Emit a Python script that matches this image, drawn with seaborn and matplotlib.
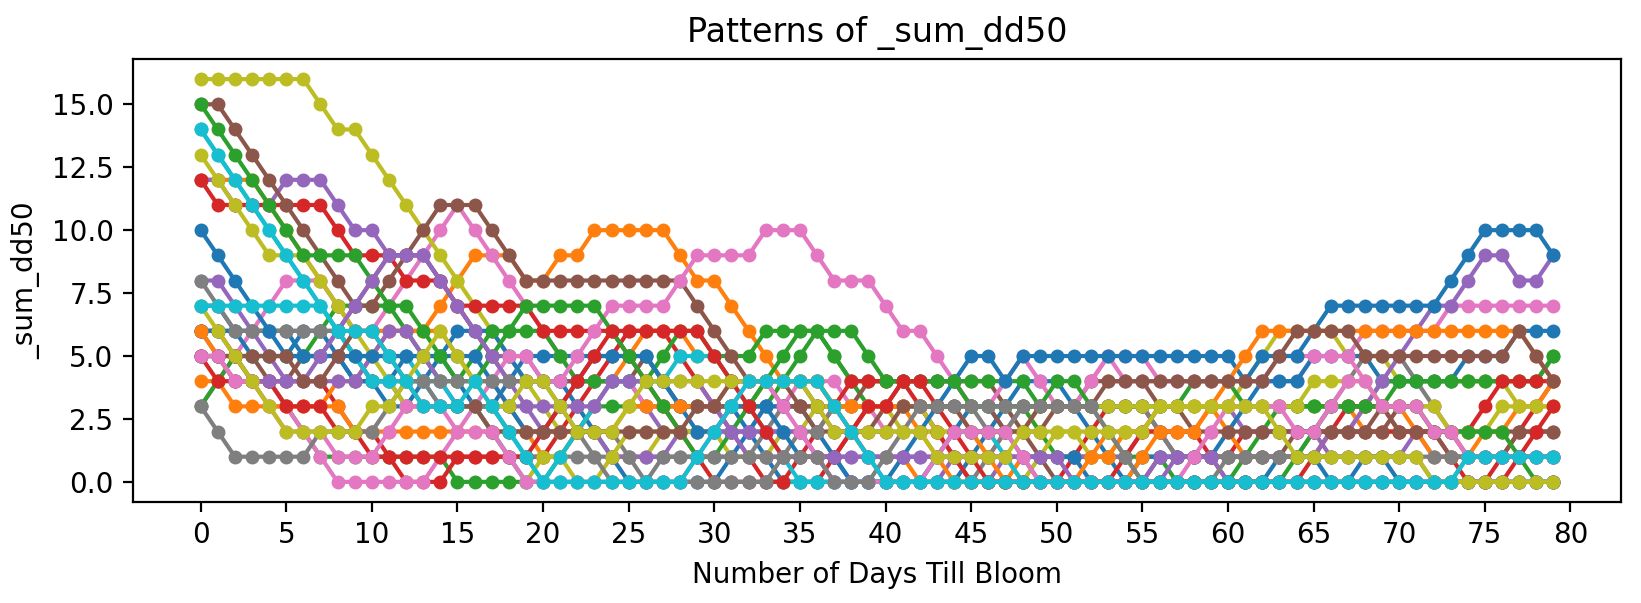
import matplotlib
matplotlib.use("Agg")
import matplotlib.pyplot as plt
from matplotlib.ticker import FormatStrFormatter
import seaborn as sns
import pandas as pd

days = list(range(80))
x_ticks = list(range(0, 81, 5))
y_ticks = [0.0, 2.5, 5.0, 7.5, 10.0, 12.5, 15.0]
title = "Patterns of _sum_dd50"
x_label = "Number of Days Till Bloom"
y_label = "_sum_dd50"

s00 = [7,7,6,6,6,6,5,5,5,4, 4,4,5,5,5,4,3,3,4,5, 5,5,5,5,5,5,5,4,3,3, 3,3,2,1,0,0,0,0,0,0,
       0,0,0,0,0,1,2,3,4,4, 4,3,2,1,0,0,0,0,0,0, 0,0,0,1,1,1,0,0,1,1, 0,0,0,0,0,0,0,0,0,0]
s01 = [12,12,12,12,11,10,9,8,7,6, 6,6,6,6,7,8,9,9,9,8, 8,9,9,10,10,10,10,10,9,8, 8,7,6,5,4,4,4,3,2,1,
       1,1,0,0,0,0,0,0,1,1, 1,1,1,2,2,2,2,2,2,3, 3,3,3,3,3,3,3,3,2,2, 2,2,2,2,1,1,1,1,1,1]
s02 = [5,5,5,4,4,3,2,1,1,1, 1,1,1,1,1,0,0,0,0,0, 0,1,2,3,3,3,3,3,3,3, 3,3,3,3,4,5,6,5,4,3,
       3,3,3,3,3,3,3,3,3,2, 1,1,1,1,1,1,1,0,0,0, 0,1,2,3,3,3,3,3,3,3, 4,4,4,4,4,4,4,4,4,5]
s03 = [6,6,5,4,4,4,4,4,3,2, 2,1,0,0,0,1,1,1,1,1, 1,2,3,4,5,6,6,6,5,4, 3,2,1,0,0,0,0,1,2,3,
       3,3,3,2,1,0,0,0,0,0, 0,1,2,3,3,3,2,1,1,1, 1,2,2,2,2,2,2,2,2,2, 2,2,2,1,0,0,1,2,3,4]
s04 = [12,12,11,11,11,12,12,12,11,10, 10,9,9,9,8,7,6,5,5,5, 4,4,4,4,4,4,3,2,2,2, 2,2,2,2,2,2,1,1,1,1,
       1,1,1,1,1,0,0,1,1,1, 1,1,1,1,1,2,3,3,3,3, 3,2,2,2,2,2,1,1,1,1, 1,2,1,1,1,1,1,1,1,1]
s05 = [6,5,5,5,4,4,5,5,6,7, 8,9,9,9,8,7,6,5,4,4, 4,4,4,4,4,4,5,4,3,3, 3,3,3,4,4,4,3,3,3,4,
       4,4,4,4,4,4,4,3,2,1, 0,0,0,0,0,0,1,1,1,1, 1,1,1,1,2,2,2,2,2,2, 3,3,2,2,2,2,2,2,2,2]
s06 = [3,4,5,6,7,8,8,8,7,6, 6,7,8,9,10,11,10,9,8,7, 6,5,4,4,4,4,3,3,2,2, 2,2,2,3,3,4,4,4,3,3,
       2,2,2,2,1,1,1,2,3,3, 3,3,4,5,5,5,4,4,4,4, 4,4,4,4,4,5,5,5,6,6, 6,6,6,7,7,7,7,7,7,7]
s07 = [6,6,6,6,6,6,6,6,6,5, 4,4,3,3,3,3,3,2,1,1, 1,1,1,1,1,1,1,1,1,1, 1,1,1,2,3,3,3,3,2,1,
       0,0,0,0,0,0,1,2,3,3, 3,3,3,3,3,3,2,1,1,1, 1,1,1,1,1,2,3,4,5,5, 5,4,3,2,1,1,1,1,1,1]
s08 = [16,16,16,16,16,16,16,15,14,14, 13,12,11,10,9,8,7,6,5,4, 3,2,2,2,1,1,1,2,2,2, 2,1,1,1,2,2,3,3,3,3,
       3,2,2,2,2,2,1,1,0,1, 2,2,1,1,2,2,3,3,3,3, 3,4,5,6,6,6,6,5,5,5, 4,4,4,4,4,4,4,3,3,3]
s09 = [14,13,12,11,10,9,8,7,6,5, 5,5,5,4,3,3,3,3,2,1, 0,0,0,0,0,0,0,0,0,0, 0,0,0,0,0,0,0,0,0,0,
       0,0,0,0,0,0,0,0,0,0, 0,0,0,0,0,0,0,0,0,0, 0,0,0,0,0,0,0,0,0,0, 0,0,0,0,1,1,1,1,1,1]
s10 = [6,6,6,5,5,5,6,6,5,4, 4,3,3,4,5,6,6,6,5,4, 4,4,3,2,1,0,0,0,0,0, 0,1,2,3,3,3,2,1,0,0,
       0,0,0,1,2,3,3,2,1,1, 1,1,0,0,0,1,1,1,1,1, 2,3,4,4,4,5,5,5,5,4, 4,4,4,4,5,5,5,6,6,6]
s11 = [4,4,3,3,3,3,3,3,4,4, 5,6,6,6,6,5,4,4,3,2, 1,1,2,3,4,5,6,6,6,5, 5,4,4,4,4,4,4,3,3,3,
       3,3,3,3,3,2,1,0,0,0, 0,0,1,1,2,2,3,3,3,3, 2,1,1,1,1,1,2,2,3,3, 3,2,1,1,1,2,2,3,3,4]
s12 = [3,4,5,5,5,5,5,6,7,7, 7,7,6,5,4,4,5,6,6,6, 6,5,4,4,4,4,4,5,6,6, 5,5,5,6,6,6,6,5,4,4,
       4,4,4,4,4,4,4,4,4,3, 3,3,3,3,3,3,3,3,4,4, 4,3,3,3,3,3,3,3,3,4, 4,4,4,4,4,4,4,4,4,5]
s13 = [12,11,11,11,11,11,11,11,10,9, 9,9,8,8,8,7,7,7,7,7, 6,6,6,6,6,5,4,3,2,1, 0,0,0,0,0,1,2,3,4,4,
       4,4,3,2,1,0,0,0,0,0, 0,0,0,0,1,2,2,2,2,1, 0,0,0,0,0,1,2,3,3,3, 2,2,2,2,2,3,4,4,4,4]
s14 = [8,8,7,6,5,4,4,4,4,4, 5,6,6,5,4,3,3,3,3,3, 2,2,2,2,1,1,1,1,2,2, 2,2,2,2,2,2,1,0,0,0,
       0,0,0,0,1,1,1,1,1,1, 1,0,0,0,0,0,0,1,1,1, 1,1,1,1,1,1,2,2,3,4, 5,6,7,7,8,9,9,8,8,9]
s15 = [15,15,14,13,12,11,10,9,8,7, 7,8,9,10,11,11,11,10,9,8, 8,8,8,8,8,8,8,8,8,7, 6,5,4,4,4,3,2,2,2,2,
       3,4,4,4,4,3,3,2,2,2, 3,3,4,4,4,4,3,3,2,2, 2,2,2,2,2,2,2,2,2,3, 2,2,2,1,1,1,1,2,2,2]
s16 = [5,5,4,4,4,3,2,1,0,0, 0,0,0,0,1,2,3,4,5,5, 4,4,5,6,7,7,7,7,8,9, 9,9,9,10,10,10,9,8,8,8,
       7,6,6,5,4,3,3,4,5,4, 3,3,4,5,4,4,4,4,4,4, 4,4,4,5,5,5,5,5,4,3, 3,3,3,2,1,1,1,1,1,1]
s17 = [8,7,6,6,6,6,6,6,6,5, 4,4,4,4,3,3,3,3,2,2, 2,2,2,2,2,1,0,0,0,0, 0,0,0,0,1,2,2,3,3,3,
       3,3,3,3,3,3,2,2,3,3, 3,3,3,3,3,3,2,1,1,1, 1,1,1,1,1,1,1,1,1,1, 1,1,1,1,1,1,1,1,1,1]
s18 = [13,12,11,10,9,9,9,8,7,6, 5,4,3,3,3,3,3,2,1,0, 1,1,0,0,1,2,2,2,2,2, 2,3,3,4,4,4,4,3,3,3,
       3,3,3,2,2,2,2,2,2,3, 3,3,3,3,3,3,3,3,3,3, 3,3,3,3,3,4,4,4,4,3, 3,3,3,2,2,2,3,3,3,3]
s19 = [14,13,12,11,10,9,8,7,6,5, 4,4,4,4,4,3,3,2,1,0, 0,1,2,3,4,4,4,4,5,5, 5,4,3,2,1,0,0,0,0,0,
       0,0,0,1,2,2,2,1,0,0, 0,0,0,0,0,0,0,0,0,0, 0,0,0,0,0,0,0,0,0,0, 0,0,0,0,0,0,0,0,0,0]
s20 = [10,9,8,7,6,5,5,5,5,5, 5,5,5,5,5,5,5,4,3,2, 2,3,4,5,5,5,5,4,3,2, 2,3,3,3,2,1,1,1,0,0,
       0,1,2,3,4,5,5,4,5,5, 5,5,5,5,5,5,5,5,5,5, 5,4,5,5,5,6,7,7,7,7, 7,7,7,8,9,10,10,10,10,9]
s21 = [6,5,4,4,3,3,3,3,3,2, 2,2,2,2,2,2,2,2,2,2, 2,2,2,2,2,3,3,3,3,3, 3,4,4,4,4,4,4,3,3,3,
       3,3,2,1,0,0,0,0,0,0, 0,0,0,0,0,1,2,2,2,3, 4,5,6,6,6,6,6,6,6,6, 6,6,6,6,6,6,6,6,5,4]
s22 = [15,14,13,12,11,10,9,9,9,9, 8,7,7,6,5,4,4,5,6,7, 7,7,7,7,6,5,4,3,2,1, 1,2,3,4,5,6,6,6,6,5,
       4,4,4,4,4,3,3,3,3,3, 4,4,3,2,1,0,0,0,0,0, 0,0,0,0,1,2,3,3,3,3, 3,3,2,2,2,2,2,1,0,0]
s23 = [5,4,4,4,4,3,3,3,2,2, 1,1,1,1,1,1,1,1,1,1, 2,3,4,5,6,6,6,6,6,6, 5,4,3,2,1,1,1,1,2,3,
       3,4,4,3,2,1,0,0,0,0, 0,0,0,0,0,0,0,0,0,0, 0,0,0,0,0,0,0,0,0,0, 0,0,0,0,0,0,0,1,2,3]
s24 = [5,5,4,4,4,4,4,5,6,7, 8,9,9,9,8,7,6,5,4,3, 3,3,3,3,4,4,4,4,4,4, 3,2,1,1,1,1,1,1,1,1,
       1,1,1,1,1,1,1,1,1,0, 0,0,0,0,0,0,1,1,1,1, 0,0,0,0,0,0,0,0,0,0, 0,0,0,0,0,0,0,0,0,0]
s25 = [5,5,5,5,5,5,4,4,5,6, 6,5,4,3,3,3,3,2,2,2, 2,2,2,2,2,2,2,2,2,3, 3,4,4,4,3,3,3,2,2,2,
       2,3,3,3,3,2,2,2,2,3, 3,3,3,4,4,4,4,4,4,4, 4,4,4,5,6,6,6,6,5,5, 5,5,5,5,5,5,5,6,5,4]
s26 = [5,5,4,4,3,2,2,2,1,1, 1,2,3,3,3,2,2,2,1,0, 0,0,0,0,0,0,0,0,0,1, 2,3,4,4,3,2,1,0,0,0,
       0,0,0,1,2,2,2,2,1,0, 0,0,0,0,0,0,0,0,1,2, 3,3,3,3,2,2,3,4,4,3, 3,3,2,2,1,1,1,1,1,1]
s27 = [3,2,1,1,1,1,1,2,2,2, 2,3,4,4,4,4,4,4,4,4, 4,3,2,1,0,0,0,1,1,1, 1,1,1,1,1,1,1,0,0,0,
       1,2,3,3,3,3,3,3,3,3, 3,3,3,2,1,0,0,0,0,0, 1,1,1,1,1,1,1,1,1,1, 1,1,0,0,0,0,0,0,0,0]
s28 = [7,6,5,4,3,2,2,2,2,2, 3,3,4,5,6,5,4,3,3,4, 4,3,2,2,2,3,4,4,4,4, 4,4,4,4,4,4,3,2,2,2,
       2,2,2,1,1,1,1,1,2,2, 2,2,2,2,2,2,3,3,3,3, 3,3,3,2,1,1,1,1,1,1, 1,1,0,0,0,0,0,0,0,0]
s29 = [7,7,7,7,7,7,7,7,6,6, 6,5,4,3,3,3,4,3,2,1, 0,0,0,0,0,0,0,0,0,1, 2,3,4,4,4,4,4,3,2,1,
       0,0,0,0,0,0,0,0,0,0, 0,0,0,0,0,0,0,0,0,0, 0,0,0,0,0,0,0,0,0,0, 0,0,0,0,1,1,1,1,1,1]

series = [s00, s01, s02, s03, s04, s05, s06, s07, s08, s09,
          s10, s11, s12, s13, s14, s15, s16, s17, s18, s19,
          s20, s21, s22, s23, s24, s25, s26, s27, s28, s29]
names = [f"s{i:02d}" for i in range(len(series))]

frames = []
for name, vals in zip(names, series):
    frames.append(pd.DataFrame({"day": days[:len(vals)], "value": vals, "series": name}))
df = pd.concat(frames, ignore_index=True)

fig = plt.figure(figsize=(1641 / 200, 603 / 200), dpi=200)
ax = fig.add_axes([133 / 1641, 1 - 502 / 603, (1621 - 133) / 1641, (502 - 59) / 603])

palette = sns.color_palette("tab10", len(series))
sns.lineplot(data=df, x="day", y="value", hue="series", hue_order=names,
             palette=palette, marker="o", markersize=4, linewidth=1.5,
             legend=False, ax=ax, errorbar=None)
for ln in ax.lines:
    ln.set_markeredgecolor(ln.get_color())
    ln.set_markeredgewidth(1.0)

ax.set_xticks(x_ticks)
ax.set_yticks(y_ticks)
ax.yaxis.set_major_formatter(FormatStrFormatter("%.1f"))
ax.set_title(title, fontsize=12)
ax.set_xlabel(x_label, fontsize=10)
ax.set_ylabel(y_label, fontsize=10)
fig.savefig("out.png", dpi=200)
